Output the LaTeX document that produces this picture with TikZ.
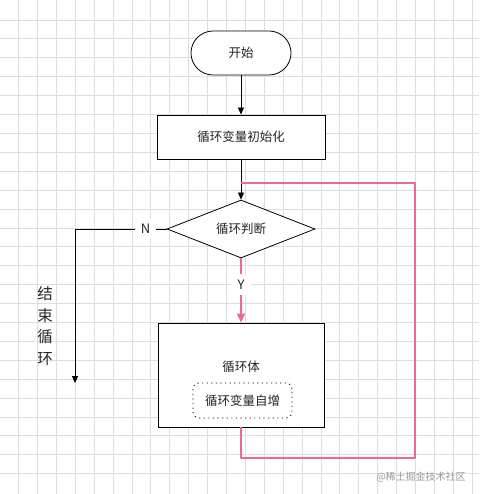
\documentclass[tikz,border=0pt]{standalone}
\usepackage{fontspec}
\setmainfont{Noto Sans CJK SC}
\usepackage{xcolor}
\usepackage{tikz}
\usetikzlibrary{shapes.geometric,arrows.meta}

\definecolor{loopred}{RGB}{238,104,150}
\definecolor{gridgray}{RGB}{222,222,222}

\begin{document}
\begin{tikzpicture}[x=1pt, y=-1pt,
    every node/.style={font=\fontsize{12.5}{15}\selectfont, text=black!85},
    box/.style={draw, thick, minimum width=168pt, minimum height=44pt, inner sep=0pt},
    terminal/.style={draw, thick, rounded corners=22pt, minimum width=100pt, minimum height=44pt},
    judgebox/.style={draw, thick, diamond, aspect=2.5, minimum width=148pt, minimum height=58pt, inner sep=0pt},
    branchlabel/.style={fill=white, inner sep=0pt, minimum size=20pt, font=\fontsize{13}{15}\selectfont},
    arr/.style={-{Triangle[length=7pt,width=6pt]}, thick},
    loopline/.style={draw=loopred, line width=1.6pt},
    looparr/.style={-{Triangle[length=9pt,width=8pt]}, loopred, line width=1.6pt}]
    \useasboundingbox (0,0) rectangle (479,494);

    % Grid background
    \foreach \i in {0,...,24} {
        \draw[gridgray, line width=0.8pt] (18.5+18.9*\i,0) -- (18.5+18.9*\i,494);
        \draw[gridgray, line width=0.8pt] (0,20+18.9*\i) -- (479,20+18.9*\i);
    }

    % Nodes
    \node[terminal, fill=white] (start) at (241,53) {开始};
    \node[box, fill=white] (init) at (241,137) {循环变量初始化};
    \node[judgebox, fill=white] (judge) at (241,229) {循环判断};
    \node[box, fill=white, minimum width=166pt, minimum height=104pt] (body) at (241,375) {};
    \node (bodytext) at (241,367) {循环体};
    \node[draw, thick, rounded corners=6pt, dash pattern=on 1.2pt off 3.4pt,
          minimum width=99pt, minimum height=35pt, inner sep=0pt] (incr) at (242.5,400.5) {循环变量自增};

    % Labels
    \node[branchlabel] (lblN) at (145.5,229) {N};
    \node[branchlabel] (lblY) at (241,284.5) {Y};
    \node[align=center, font=\fontsize{15.5}{21.5}\selectfont] (quit) at (45,326) {结\\束\\循\\环};
    \node[text=black!40, font=\fontsize{10}{12}\selectfont] (mark) at (421,477) {@稀土掘金技术社区};

    % Helper points
    \coordinate (endpt) at (75,383);
    \coordinate (loopbr) at (415,458);
    \coordinate (looptr) at (415,183);
    \coordinate (merge) at (241,183);

    % Main flow
    \draw[arr] (start) -- (init);
    \draw[arr] (init) -- (judge);

    % Exit branch
    \draw[thick] (judge.west) -- (lblN);
    \draw[arr] (lblN) -| (endpt);

    % Loop branch
    \draw[loopline] (judge.south) -- (lblY);
    \draw[looparr] (lblY) -- (body.north);
    \draw[loopline, line join=round] (body.south) |- (loopbr) -- (looptr) -- (merge);
\end{tikzpicture}
\end{document}
